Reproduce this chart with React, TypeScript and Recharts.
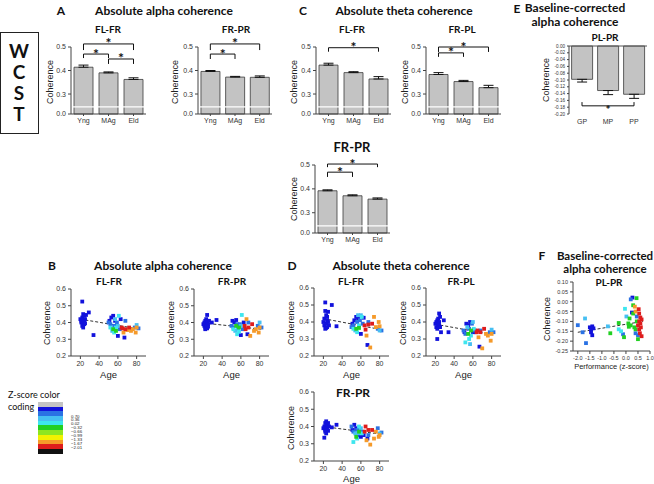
import React from 'react';
import { BarChart, Bar, XAxis, YAxis, ErrorBar, ReferenceLine, ScatterChart, Scatter } from 'recharts';

const SANS = '"Liberation Sans", Arial, sans-serif';
const HEAD = 'Lato, "Open Sans", sans-serif';

// A / C group means (coherence) and SEM
const groups = ['Yng', 'MAg', 'Eld'];
const alphaFlFr = [0.414, 0.39, 0.362];
const alphaFlFrSem = [0.009, 0.004, 0.007];
const alphaFrPr = [0.396, 0.372, 0.371];
const alphaFrPrSem = [0.004, 0.003, 0.006];
const thetaFlFr = [0.423, 0.391, 0.364];
const thetaFlFrSem = [0.008, 0.004, 0.01];
const thetaFrPl = [0.383, 0.353, 0.327];
const thetaFrPlSem = [0.008, 0.005, 0.01];
const thetaFrPr = [0.392, 0.371, 0.357];
const thetaFrPrSem = [0.004, 0.004, 0.005];

// significance brackets: [from, to, level, drop]
const alphaFlFrSig = [['Yng', 'Eld', 0.513, 0.026], ['Yng', 'MAg', 0.47, 0.017], ['MAg', 'Eld', 0.449, 0.021]];
const alphaFrPrSig = [['Yng', 'Eld', 0.513, 0.026], ['Yng', 'MAg', 0.47, 0.021]];
const thetaFlFrSig = [['Yng', 'Eld', 0.497, 0.017]];
const thetaFrPlSig = [['Yng', 'Eld', 0.5, 0.021], ['Yng', 'MAg', 0.475, 0.017]];
const thetaFrPrSig = [['Yng', 'Eld', 0.504, 0.013], ['Yng', 'MAg', 0.47, 0.02]];

// E baseline-corrected
const perfGroups = ['GP', 'MP', 'PP'];
const plPr = [-0.098, -0.131, -0.142];
const plPrSem = [0.008, 0.012, 0.012];
const plPrSig = [['GP', 'PP', -0.176, -0.011]];
const eTicks = [0, -0.02, -0.04, -0.06, -0.08, -0.1, -0.12, -0.14, -0.16, -0.18, -0.2];

// z-score colour coding
const zColors = ['#c4c4c4', '#1212dc', '#2a72e4', '#46bff2', '#3ee6ee', '#22d022', '#8ee620', '#f2f200', '#f59a2a', '#de1c1c', '#111111'];
const zLabels = ['0.70', '0.36', '0.02', '\u22120.32', '\u22120.66', '\u22120.99', '\u22121.33', '\u22121.67', '\u22122.01'];

// subjects (B, D)
const ages = [20, 21, 21, 22, 22, 22, 23, 23, 23, 24, 24, 24, 25, 25, 26, 29, 34,
  50, 51, 52, 52, 53, 54, 55, 55, 56, 56, 57, 57, 58, 58, 59, 60, 60, 61, 62, 63,
  64, 65, 66, 67, 68, 68, 70, 72, 74, 76, 78, 79, 80, 80, 82];
const ageZ = [1, 1, 1, 1, 1, 1, 1, 1, 1, 1, 1, 1, 1, 1, 1, 1, 1,
  2, 1, 4, 2, 1, 3, 5, 1, 4, 2, 3, 1, 4, 5, 2, 3, 1, 4, 2, 1,
  9, 9, 8, 1, 9, 2, 8, 9, 8, 8, 2, 8, 3, 8, 2];
const bFlFr = [0.42, 0.41, 0.40, 0.525, 0.43, 0.38, 0.45, 0.41, 0.37, 0.44, 0.40, 0.39, 0.42, 0.395, 0.445, 0.46, 0.325,
  0.40, 0.41, 0.37, 0.39, 0.43, 0.35, 0.36, 0.44, 0.34, 0.38, 0.42, 0.41, 0.37, 0.35, 0.40, 0.38, 0.32, 0.44, 0.36, 0.42,
  0.37, 0.365, 0.34, 0.31, 0.36, 0.41, 0.355, 0.37, 0.35, 0.36, 0.37, 0.34, 0.385, 0.37, 0.365];
const bFrPr = [0.39, 0.38, 0.40, 0.41, 0.37, 0.36, 0.42, 0.39, 0.38, 0.445, 0.40, 0.365, 0.39, 0.375, 0.41, 0.40, 0.415,
  0.38, 0.41, 0.36, 0.37, 0.40, 0.35, 0.38, 0.415, 0.33, 0.39, 0.36, 0.375, 0.345, 0.37, 0.39, 0.38, 0.325, 0.445, 0.36, 0.40,
  0.38, 0.36, 0.42, 0.33, 0.37, 0.40, 0.32, 0.39, 0.35, 0.36, 0.38, 0.34, 0.40, 0.37, 0.37];
const dFlFr = [0.40, 0.42, 0.38, 0.515, 0.465, 0.36, 0.44, 0.39, 0.365, 0.43, 0.41, 0.37, 0.46, 0.40, 0.38, 0.50, 0.375,
  0.37, 0.39, 0.36, 0.38, 0.41, 0.35, 0.36, 0.43, 0.34, 0.40, 0.44, 0.42, 0.38, 0.365, 0.41, 0.44, 0.33, 0.43, 0.39, 0.425,
  0.38, 0.355, 0.32, 0.265, 0.385, 0.40, 0.25, 0.39, 0.43, 0.37, 0.36, 0.40, 0.35, 0.375, 0.35];
const dFrPl = [0.39, 0.40, 0.37, 0.41, 0.30, 0.36, 0.42, 0.39, 0.38, 0.45, 0.40, 0.38, 0.43, 0.37, 0.34, 0.41, 0.34,
  0.35, 0.34, 0.28, 0.33, 0.39, 0.37, 0.33, 0.38, 0.30, 0.36, 0.27, 0.40, 0.32, 0.35, 0.39, 0.40, 0.34, 0.36, 0.35, 0.34,
  0.34, 0.35, 0.31, 0.255, 0.34, 0.35, 0.245, 0.36, 0.33, 0.32, 0.34, 0.29, 0.355, 0.33, 0.34];
const dFrPr = [0.39, 0.335, 0.40, 0.42, 0.38, 0.37, 0.43, 0.39, 0.36, 0.41, 0.40, 0.385, 0.42, 0.375, 0.40, 0.395, 0.41,
  0.40, 0.38, 0.31, 0.37, 0.41, 0.36, 0.34, 0.39, 0.33, 0.38, 0.36, 0.35, 0.40, 0.37, 0.38, 0.39, 0.34, 0.36, 0.37, 0.35,
  0.37, 0.40, 0.32, 0.33, 0.38, 0.35, 0.295, 0.38, 0.33, 0.37, 0.39, 0.34, 0.36, 0.35, 0.365];
const trendAge = [20, 82];
const bFlFrTrend = [0.42, 0.362];
const bFrPrTrend = [0.397, 0.36];
const dFlFrTrend = [0.42, 0.355];
const dFrPlTrend = [0.387, 0.325];
const dFrPrTrend = [0.40, 0.355];

// F performance vs baseline-corrected coherence
const perf = [-2.0, -1.7, -1.66, -1.8, -1.5, -1.45, -1.4, -1.45, -1.4, -1.35, -0.75, -0.65, -0.3, -0.3, -0.2, -0.12, -0.08, -0.04, 0.02, 0.12,
  0.15, 0.3, 0.27, 0.2, 0.44, 0.25, 0.37, 0.53, 0.4,
  0.55, 0.6, 0.65, 0.55, 0.6, 0.5, 0.62, 0.55, 0.58, 0.65,
  0.2, 0.35, 0.4, 0.45, 0.5, 0.3, 0.1,
  0.4, 0.5, 0.45];
const perfCoh = [-0.119, -0.085, -0.21, -0.155, -0.13, -0.14, -0.125, -0.155, -0.17, -0.135, -0.125, -0.16, -0.14, -0.108, -0.15, -0.165, -0.18, -0.036, -0.075, -0.127,
  -0.085, -0.018, 0.021, 0.012, 0.018, -0.055, -0.025, -0.038, -0.05,
  -0.06, -0.08, -0.09, -0.10, -0.11, -0.12, -0.13, -0.14, -0.16, -0.175,
  -0.12, -0.13, -0.14, -0.10, -0.19, -0.06, -0.11,
  -0.16, -0.17, -0.075];
const perfZ = [2, 3, 2, 2, 1, 1, 1, 1, 1, 1, 3, 5, 4, 5, 4, 2, 5, 4, 3, 5,
  5, 5, 1, 2, 5, 1, 8, 9, 8,
  9, 9, 9, 9, 9, 9, 9, 9, 9, 9,
  5, 5, 5, 5, 5, 5, 5,
  2, 2, 2];
const perfTrendX = [-2.0, 0.7];
const perfTrendY = [-0.155, -0.1];

const BRK = 0.215;
const tickStyle = { fontSize: 7, fill: '#333', fontFamily: SANS };

const barRows = (names, vals, sem, up) =>
  names.map((g, i) => ({ g, v: vals[i], e: up ? [0, sem[i]] : [sem[i], 0] }));

const bySet = (xs, ys, zs) =>
  zColors
    .map((c, k) => ({ c, p: xs.map((x, i) => ({ x, y: ys[i], k: zs[i] })).filter((d) => d.k === k) }))
    .filter((s) => s.p.length > 0);

const Sq = (p) => <rect x={p.cx - 1.9} y={p.cy - 1.9} width={3.8} height={3.8} fill={p.fill} />;

function sig(list, below) {
  return list.flatMap(([a, b, y, d], i) => {
    const end = y - d;
    const common = { stroke: '#111', strokeWidth: 1, ifOverflow: 'visible' as const };
    return [
      <ReferenceLine
        key={`h${i}`}
        segment={[{ x: a, y }, { x: b, y }]}
        {...common}
        label={{ value: '*', position: below ? 'bottom' : 'top', offset: below ? 0 : -4.5, fontSize: below ? 12 : 14, fontWeight: 700, fill: '#111', fontFamily: HEAD }}
      />,
      <ReferenceLine key={`a${i}`} segment={[{ x: a, y }, { x: a, y: end }]} {...common} />,
      <ReferenceLine key={`b${i}`} segment={[{ x: b, y }, { x: b, y: end }]} {...common} />,
    ];
  });
}

function Txt({ x, y, s, b = true, f = HEAD, children }) {
  return (
    <div style={{ position: 'absolute', left: x, top: y, transform: 'translate(-50%,-50%)', fontSize: s, fontWeight: b ? 700 : 400, fontFamily: f, whiteSpace: 'nowrap', lineHeight: 1, color: '#111' }}>
      {children}
    </div>
  );
}

function VLab({ x, y, s = 9, children }) {
  return (
    <div style={{ position: 'absolute', left: x, top: y, transform: 'translate(-50%,-50%) rotate(-90deg)', fontSize: s, fontFamily: SANS, whiteSpace: 'nowrap', lineHeight: 1, color: '#222' }}>
      {children}
    </div>
  );
}

function GroupBars({ left, top, w, h, data, brackets }) {
  const yW = 28, xH = 18, mT = 16, mR = 4;
  return (
    <div style={{ position: 'absolute', left: left - yW, top: top - mT }}>
      <BarChart width={yW + w + mR} height={mT + h + xH} data={data} margin={{ top: mT, right: mR, bottom: 0, left: 0 }} barCategoryGap="12%">
        <XAxis dataKey="g" interval={0} height={xH} tickSize={2} tick={tickStyle} stroke="#444" />
        <YAxis
          type="number"
          domain={[BRK, 0.5]}
          ticks={[BRK, 0.3, 0.4, 0.5]}
          interval={0}
          tickFormatter={(v) => (v < 0.25 ? '0.0' : v.toFixed(1))}
          width={yW}
          tickSize={3}
          tick={tickStyle}
          stroke="#444"
        />
        <Bar dataKey="v" fill="#c3c3c3" stroke="#3a3a3a" strokeWidth={0.8} isAnimationActive={false}>
          <ErrorBar dataKey="e" width={5} stroke="#111" strokeWidth={1} />
        </Bar>
        <ReferenceLine y={0.245} stroke="#fff" strokeWidth={1.3} />
        {sig(brackets, false)}
      </BarChart>
    </div>
  );
}

function EBars({ left, top, w, h, data, brackets }) {
  const yW = 24, xH = 14, mT = 4, mR = 4;
  return (
    <div style={{ position: 'absolute', left: left - yW, top: top - mT }}>
      <BarChart width={yW + w + mR} height={mT + h + xH} data={data} margin={{ top: mT, right: mR, bottom: 0, left: 0 }} barCategoryGap="10%">
        <XAxis dataKey="g" interval={0} height={xH} axisLine={false} tickLine={false} tickSize={3} tick={tickStyle} />
        <YAxis
          type="number"
          domain={[-0.2, 0]}
          ticks={eTicks}
          interval={0}
          tickFormatter={(v) => v.toFixed(2)}
          width={yW}
          tickSize={2}
          tick={{ fontSize: 4.6, fill: '#333', fontFamily: SANS }}
          stroke="#444"
        />
        <Bar dataKey="v" fill="#c3c3c3" stroke="#3a3a3a" strokeWidth={0.8} isAnimationActive={false}>
          <ErrorBar dataKey="e" width={5} stroke="#111" strokeWidth={1} />
        </Bar>
        <ReferenceLine y={0} stroke="#555" strokeWidth={1} />
        {sig(brackets, true)}
      </BarChart>
    </div>
  );
}

function Dots({ left, top, w, h, xd, xt, yd, yt, xf, yf, sets, trend, xl, xH = 22, fs = 7, xls = 9.5 }) {
  const yW = 26, mT = 6, mR = 10, mB = 3;
  return (
    <div style={{ position: 'absolute', left: left - yW, top: top - mT }}>
      <ScatterChart width={yW + w + mR} height={mT + h + xH + mB} margin={{ top: mT, right: mR, bottom: mB, left: 0 }}>
        <XAxis
          type="number"
          dataKey="x"
          domain={xd}
          ticks={xt}
          interval={0}
          tickFormatter={xf}
          height={xH}
          tickSize={3}
          tick={{ ...tickStyle, fontSize: fs }}
          stroke="#444"
          label={{ value: xl, position: 'insideBottom', offset: 0, fontSize: xls, fill: '#222', fontFamily: SANS }}
        />
        <YAxis type="number" dataKey="y" domain={yd} ticks={yt} interval={0} tickFormatter={yf} width={yW} tickSize={3} tick={{ ...tickStyle, fontSize: fs }} stroke="#444" />
        {sets.map((s) => (
          <Scatter key={s.c} data={s.p} fill={s.c} shape={Sq} isAnimationActive={false} />
        ))}
        <ReferenceLine segment={trend} stroke="#333" strokeWidth={1} strokeDasharray="3 2" ifOverflow="visible" />
      </ScatterChart>
    </div>
  );
}

const ageAxis = { xd: [10, 90], xt: [20, 40, 60, 80], yd: [0.2, 0.6], yt: [0.2, 0.3, 0.4, 0.5, 0.6], xf: (v) => String(v), yf: (v) => v.toFixed(1), xl: 'Age' };
const seg = (xs, ys) => xs.map((x, i) => ({ x, y: ys[i] }));

export default function App() {
  return (
    <div style={{ position: 'absolute', left: 0, top: 0, width: 654, height: 484, overflow: 'hidden', background: '#fff', fontFamily: SANS }}>
      {/* WCST box */}
      <div style={{ position: 'absolute', left: 0, top: 32, width: 37, height: 100, border: '1px solid #222' }} />
      <Txt x={19} y={50} s={19}>W</Txt>
      <Txt x={19} y={71} s={19}>C</Txt>
      <Txt x={19} y={92} s={19}>S</Txt>
      <Txt x={19} y={113} s={19}>T</Txt>

      {/* A */}
      <Txt x={61} y={11} s={12}>A</Txt>
      <Txt x={164} y={11} s={12}>Absolute alpha coherence</Txt>
      <Txt x={108} y={29} s={10}>FL-FR</Txt>
      <Txt x={236} y={29} s={10}>FR-PR</Txt>
      <VLab x={50} y={82}>Coherence</VLab>
      <VLab x={175} y={82}>Coherence</VLab>
      <GroupBars left={71} top={47} w={75} h={67} data={barRows(groups, alphaFlFr, alphaFlFrSem, true)} brackets={alphaFlFrSig} />
      <GroupBars left={198} top={47} w={74} h={67} data={barRows(groups, alphaFrPr, alphaFrPrSem, true)} brackets={alphaFrPrSig} />

      {/* C */}
      <Txt x={303} y={11} s={12}>C</Txt>
      <Txt x={404} y={11} s={12}>Absolute theta coherence</Txt>
      <Txt x={352} y={29} s={10}>FL-FR</Txt>
      <Txt x={462} y={29} s={10}>FR-PL</Txt>
      <Txt x={352} y={147} s={13}>FR-PR</Txt>
      <VLab x={294} y={82}>Coherence</VLab>
      <VLab x={405} y={82}>Coherence</VLab>
      <VLab x={294} y={199}>Coherence</VLab>
      <GroupBars left={316} top={47} w={75} h={67} data={barRows(groups, thetaFlFr, thetaFlFrSem, true)} brackets={thetaFlFrSig} />
      <GroupBars left={426} top={47} w={75} h={67} data={barRows(groups, thetaFrPl, thetaFrPlSem, true)} brackets={thetaFrPlSig} />
      <GroupBars left={315} top={165} w={75} h={68} data={barRows(groups, thetaFrPr, thetaFrPrSem, true)} brackets={thetaFrPrSig} />

      {/* E */}
      <Txt x={517} y={9} s={12}>E</Txt>
      <Txt x={575} y={8} s={12}>Baseline-corrected</Txt>
      <Txt x={575} y={22} s={12}>alpha coherence</Txt>
      <Txt x={605} y={37} s={10}>PL-PR</Txt>
      <VLab x={546} y={80}>Coherence</VLab>
      <EBars left={569} top={46} w={78} h={68} data={barRows(perfGroups, plPr, plPrSem, false)} brackets={plPrSig} />

      {/* B */}
      <Txt x={52} y={266} s={12}>B</Txt>
      <Txt x={163} y={266} s={12}>Absolute alpha coherence</Txt>
      <Txt x={109} y={281} s={10}>FL-FR</Txt>
      <Txt x={232} y={281} s={10}>FR-PR</Txt>
      <VLab x={47} y={323}>Coherence</VLab>
      <VLab x={171} y={323}>Coherence</VLab>
      <Dots left={71} top={289} w={75} h={67} {...ageAxis} sets={bySet(ages, bFlFr, ageZ)} trend={seg(trendAge, bFlFrTrend)} />
      <Dots left={194} top={289} w={75} h={67} {...ageAxis} sets={bySet(ages, bFrPr, ageZ)} trend={seg(trendAge, bFrPrTrend)} />

      {/* D */}
      <Txt x={292} y={266} s={12}>D</Txt>
      <Txt x={401} y={266} s={12}>Absolute theta coherence</Txt>
      <Txt x={351} y={281} s={10}>FL-FR</Txt>
      <Txt x={461} y={281} s={10}>FR-PL</Txt>
      <Txt x={353} y={393} s={12}>FR-PR</Txt>
      <VLab x={291} y={323}>Coherence</VLab>
      <VLab x={403} y={323}>Coherence</VLab>
      <VLab x={291} y={428}>Coherence</VLab>
      <Dots left={314} top={288} w={75} h={68} {...ageAxis} sets={bySet(ages, dFlFr, ageZ)} trend={seg(trendAge, dFlFrTrend)} />
      <Dots left={426} top={288} w={75} h={68} {...ageAxis} sets={bySet(ages, dFrPl, ageZ)} trend={seg(trendAge, dFrPlTrend)} />
      <Dots left={314} top={392} w={75} h={69} {...ageAxis} xH={21} sets={bySet(ages, dFrPr, ageZ)} trend={seg(trendAge, dFrPrTrend)} />

      {/* F */}
      <Txt x={542} y={256} s={12}>F</Txt>
      <Txt x={605} y={256} s={11.5}>Baseline-corrected</Txt>
      <Txt x={605} y={269} s={11.5}>alpha coherence</Txt>
      <Txt x={609} y={282} s={10}>PL-PR</Txt>
      <VLab x={547} y={319}>Coherence</VLab>
      <Dots
        left={573}
        top={282}
        w={77}
        h={69}
        xd={[-2.2, 1.0]}
        xt={[-2, -1.5, -1, -0.5, 0, 0.5, 1]}
        yd={[-0.25, 0.1]}
        yt={[-0.25, -0.2, -0.15, -0.1, -0.05, 0, 0.05, 0.1]}
        xf={(v) => v.toFixed(1)}
        yf={(v) => v.toFixed(2)}
        xl="Performance (z-score)"
        xH={18}
        fs={5.5}
        xls={7.5}
        sets={bySet(perf, perfCoh, perfZ)}
        trend={seg(perfTrendX, perfTrendY)}
      />

      {/* z-score legend */}
      <div style={{ position: 'absolute', left: 8, top: 389, fontFamily: HEAD, fontSize: 9, lineHeight: '12px', color: '#111' }}>
        Z-score color
        <br />
        coding
      </div>
      <div style={{ position: 'absolute', left: 38, top: 402, width: 25 }}>
        {zColors.map((c) => (
          <div key={c} style={{ height: 4.7, background: c }} />
        ))}
      </div>
      {zLabels.map((t, i) => (
        <div key={t} style={{ position: 'absolute', left: 71, top: 414.5 + i * 3.9, fontSize: 4.4, lineHeight: '4.4px', fontFamily: SANS, color: '#222' }}>
          {t}
        </div>
      ))}
    </div>
  );
}
